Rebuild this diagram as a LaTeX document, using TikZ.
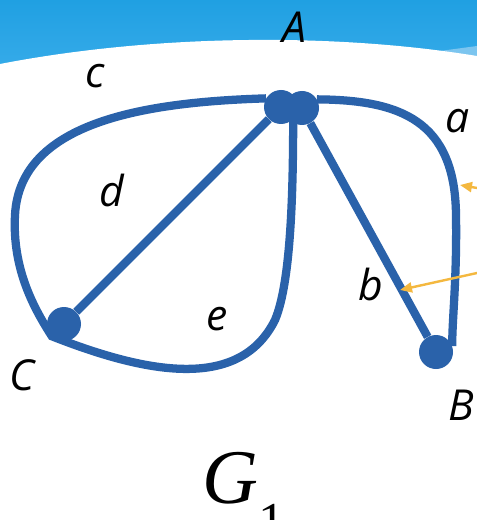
\documentclass[tikz,border=0pt]{standalone}
\usepackage{fontspec}
\setmainfont{Open Sans}
\newfontfamily\gserif{Liberation Serif}
\usetikzlibrary{arrows.meta}
\definecolor{edgeblue}{HTML}{2A62AA}
\definecolor{arrowyellow}{HTML}{F4B83F}
\definecolor{bannertop}{HTML}{20A0E2}
\definecolor{bannerbot}{HTML}{36ABE9}
\definecolor{bannerlight}{HTML}{7CC5EF}
\begin{document}
\begin{tikzpicture}[x=0.75pt,y=-0.75pt,
  vtx/.style={circle,fill=edgeblue,inner sep=0pt,minimum size=25.5pt},
  edge/.style={draw=edgeblue,line width=6.2pt},
  lbl/.style={font=\fontsize{32}{36}\selectfont\itshape,anchor=base,inner sep=0pt},
  pointer/.style={draw=arrowyellow,line width=1.8pt,-{Triangle[length=9pt,width=7.5pt]}}]
\useasboundingbox (0,0) rectangle (477,520);
% background banner
\shade[top color=bannertop,bottom color=bannerbot] (0,0) rectangle (477,70);
\fill[bannerlight] (425,53) -- (477,46) -- (477,70) -- (425,70) -- cycle;
\fill[white] (0,64) .. controls (150,35) and (330,32) .. (477,56) -- (477,520) -- (0,520) -- cycle;
% vertices
\node[vtx] (A) at (281,107) {};
\node[vtx] (A2) at (302,108) {};
\node[vtx] (C) at (64,324) {};
\node[vtx] (B) at (436,352) {};
% edges
\draw[edge,line join=miter] (A.150) .. controls (150,102) and (20,120) .. (15,215)
   .. controls (12,270) and (35,310) .. (C.225)
   .. controls (150,375) and (240,390) .. (275,320)
   .. controls (292,280) and (293,180) .. (A.-45);
\draw[edge] (A) -- (C);
\draw[edge] (A2) -- (B);
\draw[edge] (A2.30) .. controls (400,100) and (455,120) .. (456,215)
   .. controls (457,280) and (452,320) .. (B.20);
% yellow pointers
\coordinate (p1s) at (477,188);
\coordinate (p1e) at (460,185);
\coordinate (p2s) at (477,273);
\coordinate (p2e) at (400,290);
\draw[pointer] (p1s) -- (p1e);
\draw[pointer] (p2s) -- (p2e);
% labels
\node[lbl] (lA) at (294,43) {A};
\node[lbl] (lc) at (95,88) {c};
\node[lbl] (la) at (458,133) {a};
\node[lbl] (ld) at (112,206) {d};
\node[lbl] (lb) at (371,300) {b};
\node[lbl] (le) at (217,330) {e};
\node[lbl] (lB) at (461,420) {B};
\node[lbl] (lC) at (22,390) {C};
\node[anchor=base west,inner sep=0pt,font=\gserif\itshape\fontsize{58}{60}\selectfont] (G) at (202,503)
  {G\raisebox{-27pt}{\upshape\fontsize{40}{40}\selectfont 1}};
\end{tikzpicture}
\end{document}
